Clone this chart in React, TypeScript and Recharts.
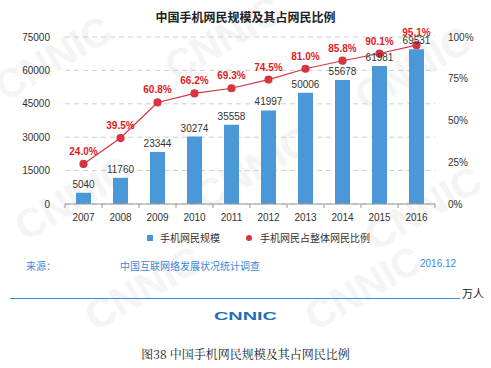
import { Bar, ComposedChart, CartesianGrid, LabelList, Line, XAxis, YAxis } from 'recharts';

const years = ['2007', '2008', '2009', '2010', '2011', '2012', '2013', '2014', '2015', '2016'];
const mobileUsers = [5040, 11760, 23344, 30274, 35558, 41997, 50006, 55678, 61981, 69531];
const mobileShare = [24.0, 39.5, 60.8, 66.2, 69.3, 74.5, 81.0, 85.8, 90.1, 95.1];
const leftTicks = [0, 15000, 30000, 45000, 60000, 75000];
const rightTicks = [0, 25, 50, 75, 100];

const FONT = '"Liberation Sans", Arial, "Noto Sans CJK SC", sans-serif';
const CJK = '"Noto Sans CJK SC", "Liberation Sans", sans-serif';
const BLUE = '#4a98d8';
const RED = '#d7343f';

const data = years.map((year, i) => ({ year, users: mobileUsers[i], share: mobileShare[i] }));

const BAND = 370 / years.length;

function YearTick(props: any) {
  const { x, y, payload, index } = props;
  const last = index === years.length - 1;
  return (
    <g>
      <line x1={x - BAND / 2} x2={x - BAND / 2} y1={y - 8} y2={y - 4} stroke="#999" />
      {last && <line x1={x + BAND / 2} x2={x + BAND / 2} y1={y - 8} y2={y - 4} stroke="#999" />}
      <text x={x} y={y + 9} textAnchor="middle" fontSize={10} fill="#333" fontFamily={FONT}>
        {payload.value}
      </text>
    </g>
  );
}

// faint diagonal logo watermarks behind everything
function Watermarks() {
  const spots = [
    [60, 70], [230, 50], [420, 80], [80, 210], [260, 180], [430, 220], [150, 300], [370, 300],
  ];
  return (
    <svg width={491} height={368} style={{ position: 'absolute', left: 0, top: 0 }}>
      {spots.map(([x, y], i) => (
        <text
          key={i}
          x={x}
          y={y}
          transform={`rotate(-30 ${x} ${y})`}
          fontSize={40}
          fontWeight={700}
          fill="#f4f4f4"
          textAnchor="middle"
          fontFamily={FONT}
        >
          CNNIC
        </text>
      ))}
    </svg>
  );
}

export default function App() {
  return (
    <div style={{ position: 'absolute', left: 0, top: 0, width: 491, height: 368, background: '#fff', overflow: 'hidden' }}>
      <Watermarks />
      <div
        style={{
          position: 'absolute', left: 0, top: 8, width: 491, textAlign: 'center',
          fontFamily: CJK, fontWeight: 700, fontSize: 12, color: '#222',
        }}
      >
        中国手机网民规模及其占网民比例
      </div>
      <div style={{ position: 'absolute', left: 0, top: 0 }}>
        <ComposedChart width={491} height={230} data={data} margin={{ top: 37, right: 0, bottom: 0, left: 0 }}>
          <CartesianGrid yAxisId="left" vertical={false} stroke="#cfcfcf" strokeDasharray="5 4" />
          <XAxis
            dataKey="year"
            height={26}
            axisLine={{ stroke: '#999' }}
            tickLine={false}
            tick={<YearTick />}
            interval={0}
          />
          <YAxis
            yAxisId="left"
            width={65}
            domain={[0, 75000]}
            ticks={leftTicks}
            axisLine={false}
            tickLine={false}
            tickSize={0}
            tickMargin={15}
            tick={{ fontSize: 10, fill: '#333', fontFamily: FONT }}
          />
          <YAxis
            yAxisId="right"
            orientation="right"
            width={56}
            domain={[0, 100]}
            ticks={rightTicks}
            tickFormatter={(v: number) => `${v}%`}
            axisLine={false}
            tickLine={false}
            tickSize={0}
            tickMargin={13}
            tick={{ fontSize: 10, fill: '#333', fontFamily: FONT }}
          />
          <Bar yAxisId="left" dataKey="users" fill={BLUE} barSize={15} isAnimationActive={false}>
            <LabelList dataKey="users" position="top" offset={5} fontSize={10} fill="#333" fontFamily={FONT} />
          </Bar>
          <Line
            yAxisId="right"
            dataKey="share"
            stroke={RED}
            strokeWidth={1.2}
            dot={{ r: 3.5, fill: RED, stroke: RED }}
            isAnimationActive={false}
          >
            <LabelList
              dataKey="share"
              position="top"
              offset={9}
              formatter={(v: number) => `${v.toFixed(1)}%`}
              fontSize={10}
              fontWeight={700}
              fill="#e01a22"
              fontFamily={FONT}
            />
          </Line>
        </ComposedChart>
      </div>
      <div style={{ position: 'absolute', top: 230, left: 0, width: 491, height: 14, fontFamily: CJK, fontSize: 10, color: '#333' }}>
        <span style={{ position: 'absolute', left: 147, top: 5, width: 6, height: 6, background: BLUE }} />
        <span style={{ position: 'absolute', left: 160, top: 0 }}>手机网民规模</span>
        <span style={{ position: 'absolute', left: 246, top: 5, width: 6, height: 6, borderRadius: 3, background: RED }} />
        <span style={{ position: 'absolute', left: 260, top: 0 }}>手机网民占整体网民比例</span>
      </div>
      <div style={{ position: 'absolute', top: 258, left: 0, width: 491, fontFamily: CJK, fontSize: 10, color: '#3a8bd8' }}>
        <span style={{ position: 'absolute', left: 26 }}>来源：</span>
        <span style={{ position: 'absolute', left: 120 }}>中国互联网络发展状况统计调查</span>
        <span style={{ position: 'absolute', left: 420, fontFamily: FONT }}>2016.12</span>
      </div>
      <div style={{ position: 'absolute', top: 298, left: 10, width: 450, height: 0, borderTop: '1px solid #3a8bd8' }} />
      <div style={{ position: 'absolute', top: 285, left: 462, fontFamily: CJK, fontSize: 11, color: '#222' }}>万人</div>
      <svg width={70} height={14} style={{ position: 'absolute', left: 211, top: 308 }}>
        <text
          x={3}
          y={11.5}
          fontSize={11}
          fontWeight={900}
          fill="#1f6fb8"
          fontFamily={FONT}
          textLength={63}
          lengthAdjust="spacingAndGlyphs"
        >
          CNNIC
        </text>
      </svg>
      <div
        style={{
          position: 'absolute', top: 345, left: 0, width: 491, textAlign: 'center',
          fontFamily: '"Noto Serif CJK SC", "DejaVu Serif", serif', fontSize: 12, color: '#222',
        }}
      >
        图38 中国手机网民规模及其占网民比例
      </div>
    </div>
  );
}
